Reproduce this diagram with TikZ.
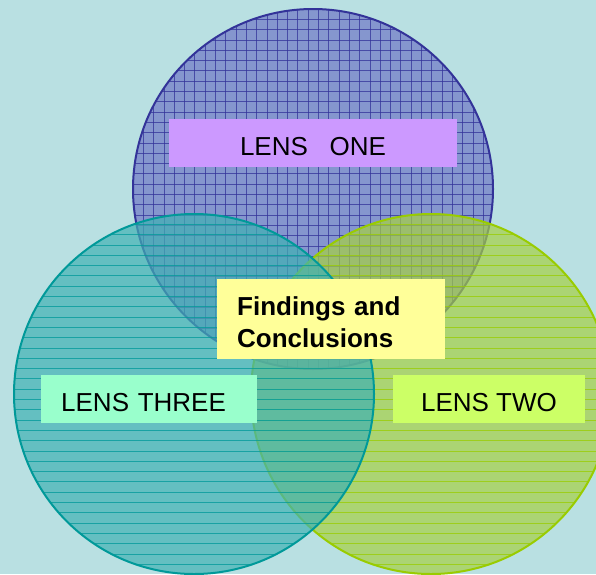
\documentclass[tikz,border=0pt]{standalone}
\usepackage{fontspec}
\setmainfont{Liberation Sans}

\definecolor{backdrop}{HTML}{B9E0E2}
\definecolor{onefill}{HTML}{7078C6}
\definecolor{oneline}{HTML}{333399}
\definecolor{threefill}{HTML}{40B1B3}
\definecolor{threeline}{HTML}{009999}
\definecolor{twofill}{HTML}{A6D044}
\definecolor{twoline}{HTML}{99CC00}
\definecolor{onetag}{HTML}{CC99FF}
\definecolor{twotag}{HTML}{CCFF66}
\definecolor{threetag}{HTML}{99FFCC}
\definecolor{findtag}{HTML}{FFFF99}

\tikzset{
  lens/.style={circle,minimum size=360pt,inner sep=0pt,line width=2pt,
    fill opacity=.7,draw opacity=1},
  hlines/.style={path picture={
    \foreach \k in {0,...,35}
      \draw[#1,line width=.7pt,draw opacity=.75]
        ([yshift=-\k*10.3pt]path picture bounding box.north west) --
        ([yshift=-\k*10.3pt]path picture bounding box.north east);}},
  gridlines/.style={path picture={
    \foreach \k in {0,...,35} {
      \draw[#1,line width=.7pt,draw opacity=.75]
        ([yshift=-\k*10.3pt]path picture bounding box.north west) --
        ([yshift=-\k*10.3pt]path picture bounding box.north east);
      \draw[#1,line width=.7pt,draw opacity=.75]
        ([xshift=\k*10.3pt]path picture bounding box.north west) --
        ([xshift=\k*10.3pt]path picture bounding box.south west);}}},
  tag/.style={inner sep=0pt,minimum height=48pt,text height=25pt,
    text depth=0pt,font=\fontsize{26}{31}\selectfont}
}

\begin{document}
\begin{tikzpicture}[x=1pt,y=-1pt]
  \fill[backdrop] (0,0) rectangle (596,574);
  \clip (0,0) rectangle (596,574);

  % the three lenses
  \node[lens,draw=oneline,fill=onefill,gridlines=oneline] (one)
    at (313,189) {};
  \node[lens,draw=twoline,fill=twofill,hlines=twoline] (two)
    at (431,394) {};
  \node[lens,draw=threeline,fill=threefill,hlines=threeline] (three)
    at (194,394) {};

  % labels
  \node[tag,fill=onetag,minimum width=288pt] (one label) at (313,143)
    {LENS\ \ \ ONE};
  \node[tag,fill=twotag,minimum width=192pt] (two label) at (489,399)
    {LENS TWO};
  \node[tag,fill=threetag,anchor=west,text width=176pt,inner xsep=20pt,
    align=left] (three label) at (41,399) {LENS THREE};
  \node[fill=findtag,anchor=north west,text width=188pt,inner xsep=20pt,
    inner ysep=0pt,minimum height=80pt,text height=24pt,text depth=32pt,
    align=left,font=\fontsize{26}{32}\selectfont\bfseries] (findings)
    at (217,279) {Findings and\\Conclusions};
\end{tikzpicture}
\end{document}
